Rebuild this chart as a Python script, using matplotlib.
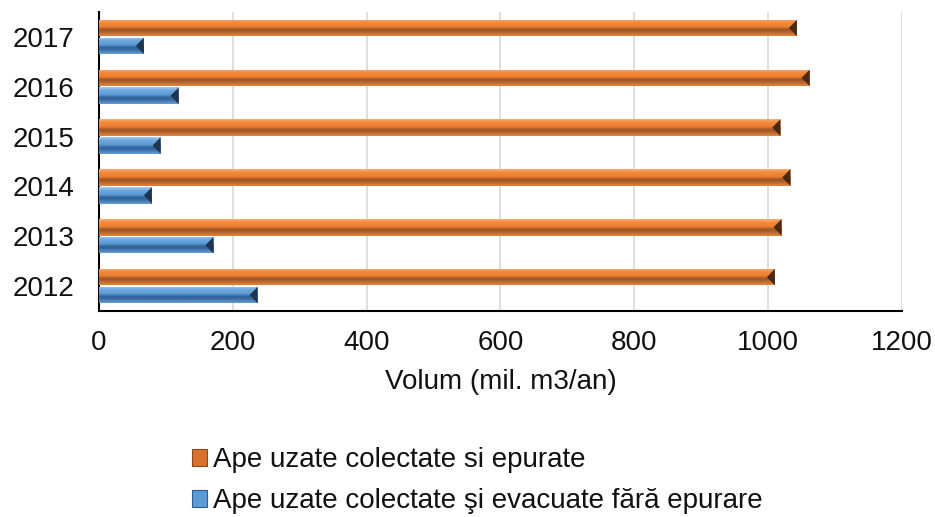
import numpy as np
import matplotlib
matplotlib.use("Agg")
import matplotlib.pyplot as plt
from matplotlib.colors import LinearSegmentedColormap
from matplotlib.patches import Patch

years = ["2012", "2013", "2014", "2015", "2016", "2017"]
epurate = [1010, 1020, 1033, 1018, 1062, 1043]
fara_epurare = [237, 171, 79, 92, 119, 67]
series_labels = ["Ape uzate colectate si epurate",
                 "Ape uzate colectate şi evacuate fără epurare"]
xticks = [0, 200, 400, 600, 800, 1000, 1200]

plt.rcParams['font.family'] = ['Liberation Sans', 'DejaVu Sans']

fig = plt.figure(figsize=(9.35, 5.17), dpi=100)
ax = fig.add_axes([99/935, 1 - 311/517, (902-99)/935, (311-12)/517])

y = np.arange(len(years))
h = 0.33
off = 0.18

orange_cmap = LinearSegmentedColormap.from_list(
    "o", [(0.0, "#F7B07A"), (0.18, "#F58A3A"), (0.45, "#EE7F30"),
          (0.62, "#9A5226"), (0.78, "#B4662E"), (1.0, "#E8843A")])
blue_cmap = LinearSegmentedColormap.from_list(
    "b", [(0.0, "#A9CDF0"), (0.18, "#6FA8E0"), (0.45, "#5B9BD5"),
          (0.62, "#2E5F93"), (0.78, "#3C70A8"), (1.0, "#6A9FD6")])

b1 = ax.barh(y + off, epurate, height=h, color="#ED7D31", zorder=3)
b2 = ax.barh(y - off, fara_epurare, height=h, color="#5B9BD5", zorder=3)

grad = np.linspace(0, 1, 64).reshape(-1, 1)
for bars, cmap, cap in [(b1, orange_cmap, "#4A2A15"), (b2, blue_cmap, "#1F3550")]:
    for bar in bars:
        x0, y0 = bar.get_x(), bar.get_y()
        w, hh = bar.get_width(), bar.get_height()
        im = ax.imshow(grad, cmap=cmap, aspect='auto',
                       extent=[x0, x0 + w, y0, y0 + hh], zorder=4,
                       interpolation='bicubic')
        im.set_clip_path(bar)
        capw = 12
        ax.fill([x0 + w - capw, x0 + w, x0 + w, x0 + w - capw],
                [y0 + hh * 0.5, y0 + hh * 1.0, y0, y0 + hh * 0.5],
                color=cap, zorder=5, lw=0)
        bar.set_visible(False)

ax.set_xlim(0, 1200)
ax.set_ylim(-0.5, len(years) - 0.5)
ax.set_xticks(xticks)
ax.set_xticklabels([str(t) for t in xticks])
ax.set_yticks(y)
ax.set_yticklabels(years)
ax.tick_params(axis='both', length=0, labelsize=20, colors="#111111")
ax.tick_params(axis='y', pad=18)
ax.tick_params(axis='x', pad=14)
ax.grid(axis='x', color="#D9D9D9", lw=1.2, zorder=0)
ax.set_axisbelow(True)
for s in ['top', 'right']:
    ax.spines[s].set_visible(False)
ax.spines['left'].set_color("#000000")
ax.spines['bottom'].set_color("#000000")
ax.spines['left'].set_linewidth(1.5)
ax.spines['bottom'].set_linewidth(1.5)
ax.set_xlabel("Volum (mil. m3/an)", fontsize=20, labelpad=9, color="#111111")

handles = [Patch(facecolor="#D9712C", edgecolor="#8A4A1E", lw=0.8),
           Patch(facecolor="#5B9BD5", edgecolor="#2E5F93", lw=0.8)]
fig.legend(handles, series_labels, loc='upper left',
           bbox_to_anchor=(192/935, 1 - 447/517), frameon=False,
           fontsize=20, handlelength=0.55, handleheight=0.55,
           handletextpad=0.2, labelspacing=0.55, borderaxespad=0,
           borderpad=0, labelcolor="#111111")

fig.savefig("out.png", dpi=100)
